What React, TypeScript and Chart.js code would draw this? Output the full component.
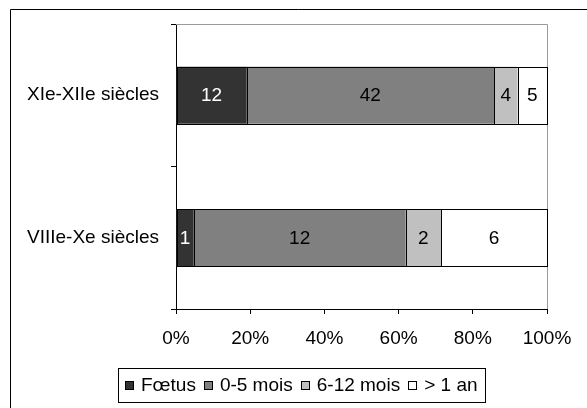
import React, { useEffect, useRef } from 'react';
import { Chart, registerables } from 'chart.js';

Chart.register(...registerables);

const categories = ['XIe-XIIe siècles', 'VIIIe-Xe siècles'];
const seriesNames = ['Fœtus', '0-5 mois', '6-12 mois', '> 1 an'];
const foetus = [12, 1];
const mois0_5 = [42, 12];
const mois6_12 = [4, 2];
const plus1an = [5, 6];
const xTickLabels = ['0%', '20%', '40%', '60%', '80%', '100%'];

const seriesValues = [foetus, mois0_5, mois6_12, plus1an];
const colors = ['#333333', '#808080', '#c0c0c0', '#ffffff'];
const labelColors = ['#ffffff', '#000000', '#000000', '#000000'];
const FONT_FAMILY = '"Liberation Sans", Arial, sans-serif';
const FONT_SIZE = 19;

export default function App() {
  const ref = useRef<HTMLCanvasElement | null>(null);

  useEffect(() => {
    if (!ref.current) return;
    const totals = categories.map((_, j) => seriesValues.reduce((s, arr) => s + arr[j], 0));

    const framePlugin = {
      id: 'frame',
      beforeDraw(chart: any) {
        const ctx = chart.ctx;
        ctx.save();
        ctx.fillStyle = '#ffffff';
        ctx.fillRect(0, 0, chart.width, chart.height);
        ctx.strokeStyle = '#000000';
        ctx.lineWidth = 1;
        ctx.beginPath();
        ctx.moveTo(10.5, chart.height);
        ctx.lineTo(10.5, 9.5);
        ctx.lineTo(chart.width, 9.5);
        ctx.stroke();
        ctx.restore();
      },
      beforeDatasetsDraw(chart: any) {
        const { ctx, chartArea } = chart;
        ctx.save();
        ctx.strokeStyle = '#999999';
        ctx.lineWidth = 1;
        ctx.beginPath();
        ctx.moveTo(chartArea.left, Math.round(chartArea.top) + 0.5);
        ctx.lineTo(Math.round(chartArea.right) + 0.5, Math.round(chartArea.top) + 0.5);
        ctx.lineTo(Math.round(chartArea.right) + 0.5, chartArea.bottom);
        ctx.stroke();
        ctx.restore();
      },
    };

    const outlineAndLabelPlugin = {
      id: 'outlinesAndLabels',
      afterDatasetsDraw(chart: any) {
        const ctx = chart.ctx;
        ctx.save();
        ctx.strokeStyle = '#000000';
        ctx.lineWidth = 1;
        chart.data.datasets.forEach((_: any, i: number) => {
          const meta = chart.getDatasetMeta(i);
          meta.data.forEach((el: any) => {
            const p = el.getProps(['x', 'y', 'base', 'height'], true);
            const l = Math.round(Math.min(p.x, p.base));
            const r = Math.round(Math.max(p.x, p.base));
            const t = Math.round(p.y - p.height / 2);
            const b = Math.round(p.y + p.height / 2);
            ctx.strokeRect(l + 0.5, t + 0.5, r - l, b - t);
          });
        });
        ctx.font = `${FONT_SIZE}px ${FONT_FAMILY}`;
        ctx.textAlign = 'center';
        ctx.textBaseline = 'middle';
        chart.data.datasets.forEach((_: any, i: number) => {
          const meta = chart.getDatasetMeta(i);
          meta.data.forEach((el: any, j: number) => {
            const p = el.getCenterPoint();
            ctx.fillStyle = labelColors[i];
            ctx.fillText(String(seriesValues[i][j]), p.x, p.y + 1);
          });
        });
        ctx.restore();
      },
    };

    const legendPlugin = {
      id: 'boxLegend',
      afterDraw(chart: any) {
        const ctx = chart.ctx;
        ctx.save();
        ctx.font = `${FONT_SIZE}px ${FONT_FAMILY}`;
        const sq = 8;
        const gapBoxText = 8;
        const itemGap = 8;
        const padX = 7;
        const widths = seriesNames.map((n) => ctx.measureText(n).width);
        const inner = widths.reduce((s, w) => s + sq + gapBoxText + w, 0) + itemGap * (seriesNames.length - 1);
        const W = Math.round(inner + padX * 2);
        const left = Math.round(301.5 - W / 2);
        const top = 368;
        const H = 34;
        ctx.strokeStyle = '#000000';
        ctx.lineWidth = 1;
        ctx.fillStyle = '#ffffff';
        ctx.fillRect(left + 0.5, top + 0.5, W, H);
        ctx.strokeRect(left + 0.5, top + 0.5, W, H);
        const cy = top + H / 2 + 1;
        let x = left + padX;
        ctx.textBaseline = 'middle';
        ctx.textAlign = 'left';
        seriesNames.forEach((n, i) => {
          const sy = Math.round(cy - sq / 2) - 1;
          const sx = Math.round(x);
          ctx.fillStyle = colors[i];
          ctx.fillRect(sx + 0.5, sy + 0.5, sq, sq);
          ctx.strokeRect(sx + 0.5, sy + 0.5, sq, sq);
          x += sq + gapBoxText;
          ctx.fillStyle = '#000000';
          ctx.fillText(n, x, cy);
          x += widths[i] + itemGap;
        });
        ctx.restore();
      },
    };

    const chart = new Chart(ref.current, {
      type: 'bar',
      data: {
        labels: categories,
        datasets: seriesNames.map((name, i) => ({
          label: name,
          data: seriesValues[i].map((v, j) => (v / totals[j]) * 100),
          backgroundColor: colors[i],
          borderWidth: 0,
          barPercentage: 0.4,
          categoryPercentage: 1,
          inflateAmount: 0,
        })),
      },
      options: {
        indexAxis: 'y',
        animation: false,
        responsive: false,
        maintainAspectRatio: false,
        layout: { padding: { top: 24, right: 40, left: 0, bottom: 0 } },
        plugins: {
          legend: { display: false },
          tooltip: { enabled: false },
        },
        scales: {
          x: {
            stacked: true,
            min: 0,
            max: 100,
            ticks: {
              stepSize: 20,
              maxRotation: 0,
              autoSkip: false,
              color: '#000000',
              font: { family: FONT_FAMILY, size: FONT_SIZE },
              padding: 13,
              callback: (_v: any, idx: number) => xTickLabels[idx],
            },
            grid: { drawOnChartArea: false, tickLength: 5, color: '#000000' },
            border: { color: '#000000' },
            afterFit: (s: any) => {
              s.height = 99;
            },
          },
          y: {
            stacked: true,
            ticks: {
              color: '#000000',
              font: { family: FONT_FAMILY, size: FONT_SIZE },
              padding: 12,
            },
            grid: { offset: true, drawOnChartArea: false, tickLength: 5, color: '#000000' },
            border: { color: '#000000' },
            afterFit: (s: any) => {
              s.width = 176;
            },
          },
        },
      },
      plugins: [framePlugin, outlineAndLabelPlugin, legendPlugin],
    } as any);

    return () => chart.destroy();
  }, []);

  return (
    <div style={{ position: 'absolute', left: 0, top: 0, width: 587, height: 408 }}>
      <canvas ref={ref} width={587} height={408} style={{ width: 587, height: 408, display: 'block' }} />
    </div>
  );
}
